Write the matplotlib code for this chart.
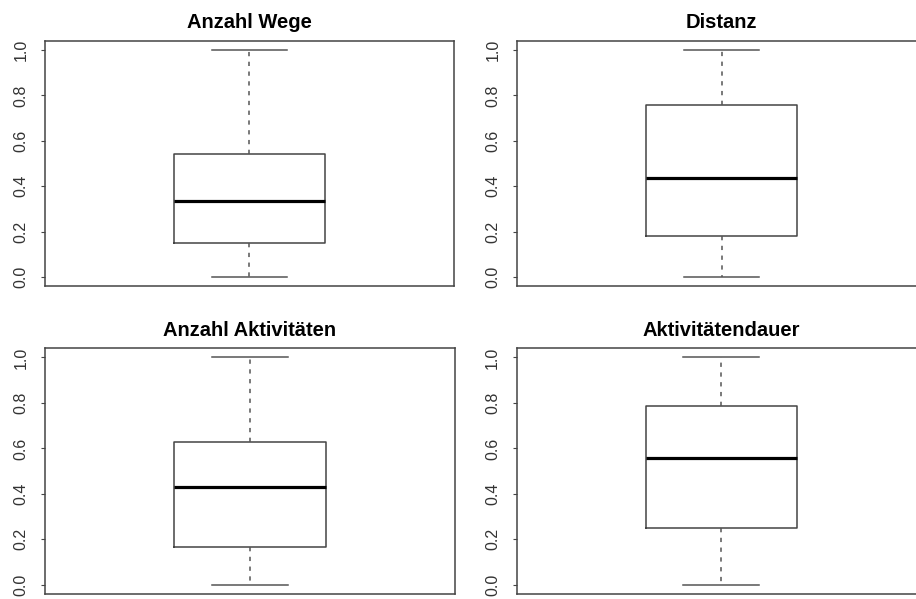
import matplotlib
matplotlib.use("Agg")
import matplotlib.pyplot as plt

titles = ["Anzahl Wege", "Distanz", "Anzahl Aktivitäten", "Aktivitätendauer"]
q1 = [0.149, 0.182, 0.167, 0.251]
med = [0.333, 0.434, 0.430, 0.558]
q3 = [0.541, 0.759, 0.630, 0.786]
lo = [0.0, 0.0, 0.0, 0.0]
hi = [1.0, 1.0, 1.0, 1.0]
yticks = [0.0, 0.2, 0.4, 0.6, 0.8, 1.0]
ytick_labels = ["0.0", "0.2", "0.4", "0.6", "0.8", "1.0"]

plt.rcParams['font.family'] = ['Liberation Sans', 'DejaVu Sans']

W, H = 916, 599
fig = plt.figure(figsize=(W / 100, H / 100), dpi=100)

# pixel boxes: left, top, right, bottom
boxes = [
    (45, 41, 454, 286),
    (517, 41, 926, 286),
    (45, 348.3, 454.7, 594),
    (516.7, 348.3, 926, 594),
]

line_col = "#444444"
for i, (l, t, r, b) in enumerate(boxes):
    ax = fig.add_axes([l / W, (H - b) / H, (r - l) / W, (b - t) / H])
    stats = [dict(med=med[i], q1=q1[i], q3=q3[i], whislo=lo[i], whishi=hi[i],
                  fliers=[], label="")]
    ax.bxp(stats, positions=[1], widths=0.4, showfliers=False,
           boxprops=dict(color=line_col, linewidth=1.1),
           medianprops=dict(color="black", linewidth=2.3, solid_capstyle="butt"),
           whiskerprops=dict(color="#555555", linewidth=1.1, linestyle=(0, (2.8, 3.6))),
           capprops=dict(color="#555555", linewidth=1.1))
    ax.set_xlim(0.46, 1.54)
    ax.set_ylim(-0.04, 1.04)
    ax.set_xticks([])
    ax.set_yticks(yticks)
    ax.set_yticklabels(ytick_labels, rotation=90, va="center", fontsize=11.5,
                       color="#333333")
    ax.tick_params(axis="y", length=3, width=0.8, color=line_col, pad=9)
    for s in ax.spines.values():
        s.set_color(line_col)
        s.set_linewidth(1.1)
    ax.set_title(titles[i], fontsize=14.5, fontweight="bold", pad=9)

fig.savefig("out.png", dpi=100)
